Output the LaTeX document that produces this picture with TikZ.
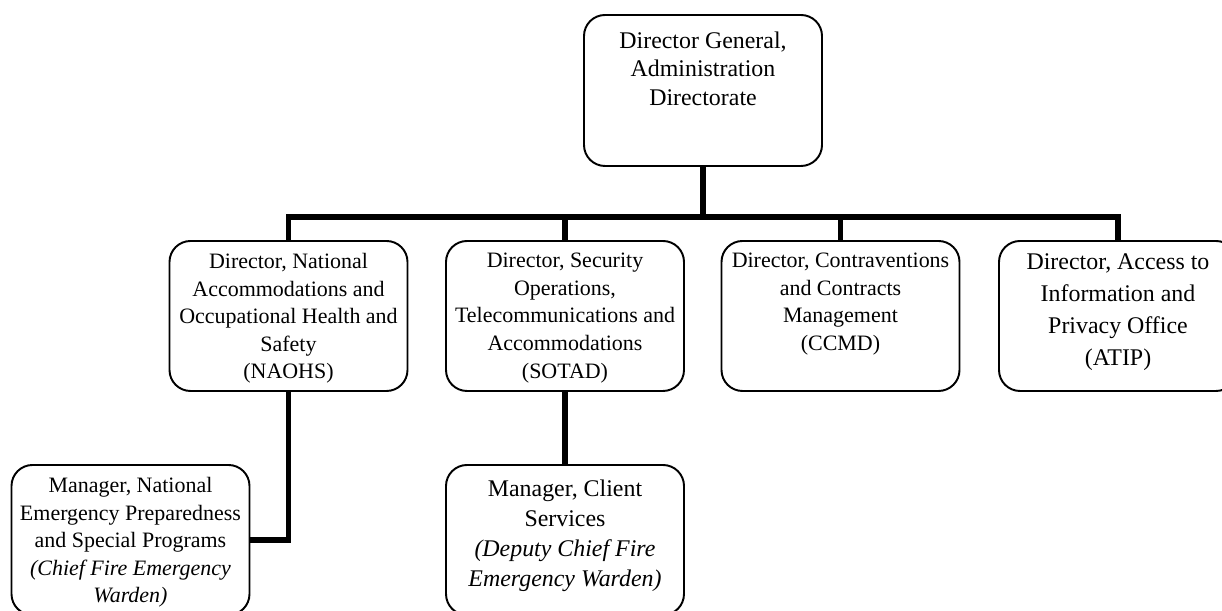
\documentclass[tikz,border=0pt]{standalone}
\usepackage{fontspec}
\setmainfont{Liberation Serif}
\tikzset{
  post/.style={draw, line width=1.1pt, rounded corners=0.42cm,
    minimum width=4.76cm, minimum height=3cm, inner sep=0pt},
  link/.style={line width=3.4pt},
  smalltxt/.style={anchor=north, align=center, inner sep=0pt, yshift=-7.3pt,
    font=\fontsize{12.5}{15.7}\selectfont},
  largetxt/.style={anchor=north, align=center, inner sep=0pt, yshift=-9pt,
    font=\fontsize{13.6}{17.1}\selectfont}
}

\begin{document}
\begin{tikzpicture}
  \useasboundingbox (0,0) rectangle (24.44,12.22);
  %top of the chart
  \node[post, minimum height=3.02cm,
        label={[largetxt, yshift=-1pt, font=\fontsize{13.6}{16.2}\selectfont]north:{Director General,\\
          Administration\\Directorate}}] (dg) at (14.06,10.41) {};
  %directors
  \node[post, label={[smalltxt]north:{Director, National\\Accommodations and\\
          Occupational Health and\\Safety\\(NAOHS)}}] (naohs) at (5.77,5.90) {};
  \node[post, label={[smalltxt]north:{Director, Security\\Operations,\\
          Telecommunications and\\Accommodations\\(SOTAD)}}] (sotad) at (11.30,5.90) {};
  \node[post, label={[smalltxt]north:{Director, Contraventions\\and Contracts\\
          Management\\(CCMD)}}] (ccmd) at (16.81,5.90) {};
  \node[post, label={[largetxt, yshift=1.6pt, font=\fontsize{13.6}{18.3}\selectfont]north:{Director,
          Access to\\Information and\\Privacy Office\\(ATIP)}}] (atip) at (22.36,5.90) {};
  %managers
  \node[post, label={[smalltxt]north:{Manager, National\\Emergency Preparedness\\
          and Special Programs\\\textit{(Chief Fire Emergency}\\\textit{Warden)}}}]
        (nepsp) at (2.61,1.42) {};
  \node[post, label={[largetxt]north:{Manager, Client\\Services\\
          \textit{(Deputy Chief Fire}\\\textit{Emergency Warden)}}}]
        (client) at (11.30,1.42) {};
  %lines
  \coordinate (bar) at (0,7.88);
  \draw[link] (dg.south) -- (dg.south |- bar) -| (naohs.north)
        (dg.south |- bar) -| (sotad.north)
        (dg.south |- bar) -| (ccmd.north)
        (dg.south |- bar) -| (atip.north);
  \draw[link] (naohs.south) |- (nepsp.east);
  \draw[link] (sotad.south) -- (client.north);
\end{tikzpicture}
\end{document}
